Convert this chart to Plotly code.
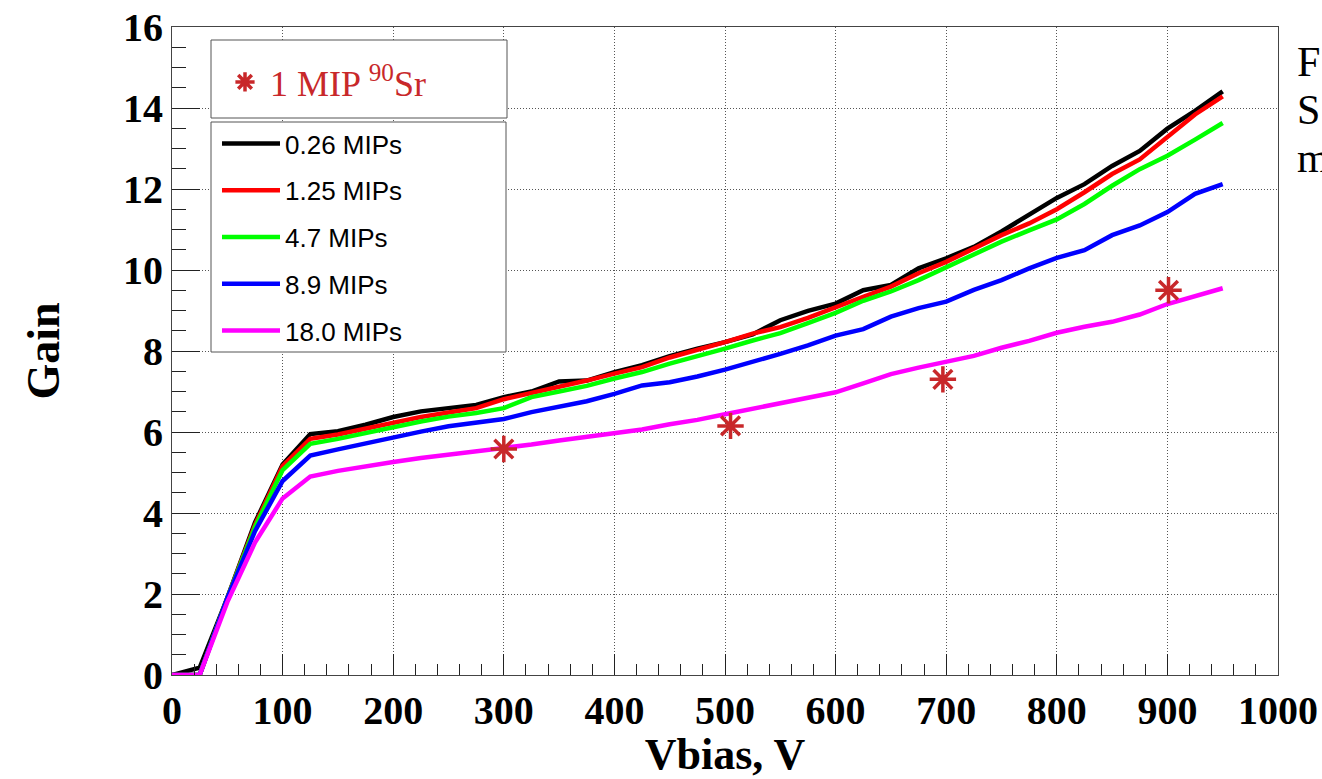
import plotly.graph_objects as go

# Bias voltage scan points (V)
vbias = [0, 25, 50, 75, 100, 125, 150, 175, 200, 225, 250, 275, 300, 325, 350,
         375, 400, 425, 450, 475, 500, 525, 550, 575, 600, 625, 650, 675, 700,
         725, 750, 775, 800, 825, 850, 875, 900, 925, 950]

# Gain curves for each injected charge
gain_026 = [0.0, 0.18, 1.9, 3.76, 5.2, 5.95, 6.02, 6.18, 6.37, 6.51, 6.59, 6.67, 6.86,
            7.0, 7.25, 7.27, 7.48, 7.65, 7.87, 8.06, 8.22, 8.41, 8.76, 8.99, 9.17,
            9.5, 9.63, 10.04, 10.29, 10.57, 10.95, 11.38, 11.78, 12.12, 12.57,
            12.94, 13.49, 13.93, 14.41]
gain_125 = [0.0, 0.0, 1.9, 3.7, 5.16, 5.83, 5.94, 6.08, 6.23, 6.37, 6.48, 6.59, 6.81,
            6.96, 7.1, 7.27, 7.44, 7.6, 7.84, 8.02, 8.22, 8.43, 8.59, 8.82, 9.09,
            9.34, 9.59, 9.92, 10.2, 10.53, 10.86, 11.15, 11.5, 11.92, 12.37,
            12.73, 13.27, 13.84, 14.29]
gain_47 = [0.0, 0.0, 1.9, 3.65, 5.06, 5.71, 5.83, 5.98, 6.13, 6.26, 6.38, 6.47, 6.59,
           6.86, 7.0, 7.14, 7.32, 7.48, 7.69, 7.87, 8.06, 8.26, 8.44, 8.69, 8.94,
           9.24, 9.47, 9.75, 10.07, 10.37, 10.7, 10.98, 11.25, 11.63, 12.08,
           12.49, 12.82, 13.22, 13.63]
gain_89 = [0.0, 0.0, 1.9, 3.55, 4.79, 5.42, 5.57, 5.72, 5.86, 6.01, 6.14, 6.22, 6.32,
           6.49, 6.63, 6.76, 6.94, 7.15, 7.23, 7.37, 7.54, 7.73, 7.93, 8.14, 8.38,
           8.54, 8.85, 9.06, 9.22, 9.51, 9.75, 10.04, 10.3, 10.49, 10.86, 11.1,
           11.43, 11.88, 12.12]
gain_180 = [0.0, 0.0, 1.8, 3.27, 4.36, 4.9, 5.04, 5.16, 5.26, 5.36, 5.44, 5.52, 5.6,
            5.69, 5.79, 5.88, 5.97, 6.06, 6.19, 6.3, 6.44, 6.58, 6.7, 6.84, 6.98,
            7.2, 7.43, 7.59, 7.73, 7.88, 8.08, 8.25, 8.45, 8.6, 8.72, 8.9, 9.16,
            9.36, 9.55]

series_names = ["0.26 MIPs", "1.25 MIPs", "4.7 MIPs", "8.9 MIPs", "18.0 MIPs"]
series_gain = [gain_026, gain_125, gain_47, gain_89, gain_180]
series_colors = ["#000000", "#ff0000", "#00ff00", "#0000ff", "#ff00ff"]

# 90Sr single-MIP measurements
sr_vbias = [300, 505, 697, 901]
sr_gain = [5.58, 6.15, 7.3, 9.5]

star_color = "#c8282a"
serif = "Liberation Serif"
sans = "Liberation Sans"

fig = go.Figure()

for i, (name, g, c) in enumerate(zip(series_names, series_gain, series_colors)):
    fig.add_trace(go.Scatter(
        x=vbias, y=g, mode="lines", name=name,
        line=dict(color=c, width=4.5),
        legend="legend", legendgroup=f"g{i}",
    ))

fig.add_trace(go.Scatter(
    x=sr_vbias, y=sr_gain, mode="markers",
    name="1 MIP <sup>90</sup>Sr",
    marker=dict(symbol="asterisk-open", size=22, color=star_color,
                line=dict(color=star_color, width=3.5)),
    legend="legend2",
))

# page geometry of the plot frame
L, R, T, B = 172, 1278, 27, 675
W, H = R - L, B - T


def px(x):
    return (x - L) / W


def py(y):
    return (B - y) / H


shapes = [
    dict(type="rect", xref="paper", yref="paper",
         x0=px(211), x1=px(507), y0=py(118), y1=py(40),
         line=dict(color="#555555", width=1), fillcolor="white", layer="above"),
    dict(type="rect", xref="paper", yref="paper",
         x0=px(211), x1=px(506), y0=py(352), y1=py(122),
         line=dict(color="#555555", width=1), fillcolor="white", layer="above"),
]

annotations = []
for txt, yc in [("F", 62), ("S", 110), ("m", 158)]:
    annotations.append(dict(
        text=txt, xref="paper", yref="paper", x=px(1295), y=py(yc),
        xanchor="left", yanchor="middle", showarrow=False,
        font=dict(family=serif, size=42, color="black"),
    ))

axis_common = dict(
    showline=True, linecolor="#444444", linewidth=1, mirror=True,
    showgrid=True, gridcolor="#555555", gridwidth=1, griddash="1px,2px",
    zeroline=False, ticks="inside", tickcolor="#222222", tickwidth=1,
    tickfont=dict(family=serif, size=40, color="black", weight="bold"),
    automargin=False,
)

fig.update_layout(
    width=1322, height=779,
    margin=dict(l=L, r=1322 - R, t=T, b=779 - B, autoexpand=False),
    paper_bgcolor="white", plot_bgcolor="white",
    showlegend=True,
    xaxis=dict(
        range=[0, 1000], dtick=100, tick0=0, ticklen=21,
        minor=dict(dtick=20, ticklen=11, ticks="inside", tickcolor="#222222",
                   showgrid=False),
        title=dict(text="Vbias, V", standoff=6,
                   font=dict(family=serif, size=44, color="black", weight="bold")),
        **axis_common,
    ),
    yaxis=dict(
        range=[0, 16], dtick=2, tick0=0, ticklen=28,
        minor=dict(dtick=0.5, ticklen=14, ticks="inside", tickcolor="#222222",
                   showgrid=False),
        title=dict(text="Gain", standoff=48,
                   font=dict(family=serif, size=46, color="black", weight="bold")),
        **axis_common,
    ),
    legend=dict(
        x=px(217), y=py(120), xanchor="left", yanchor="top",
        bgcolor="rgba(0,0,0,0)", borderwidth=0, tracegroupgap=10,
        font=dict(family=sans, size=26, color="black"),
        itemwidth=58,
    ),
    legend2=dict(
        x=px(220), y=py(52), xanchor="left", yanchor="top",
        bgcolor="rgba(0,0,0,0)", borderwidth=0, itemwidth=40,
        font=dict(family=serif, size=36, color=star_color),
    ),
    shapes=shapes,
    annotations=annotations,
)

fig.write_html("out.html")
